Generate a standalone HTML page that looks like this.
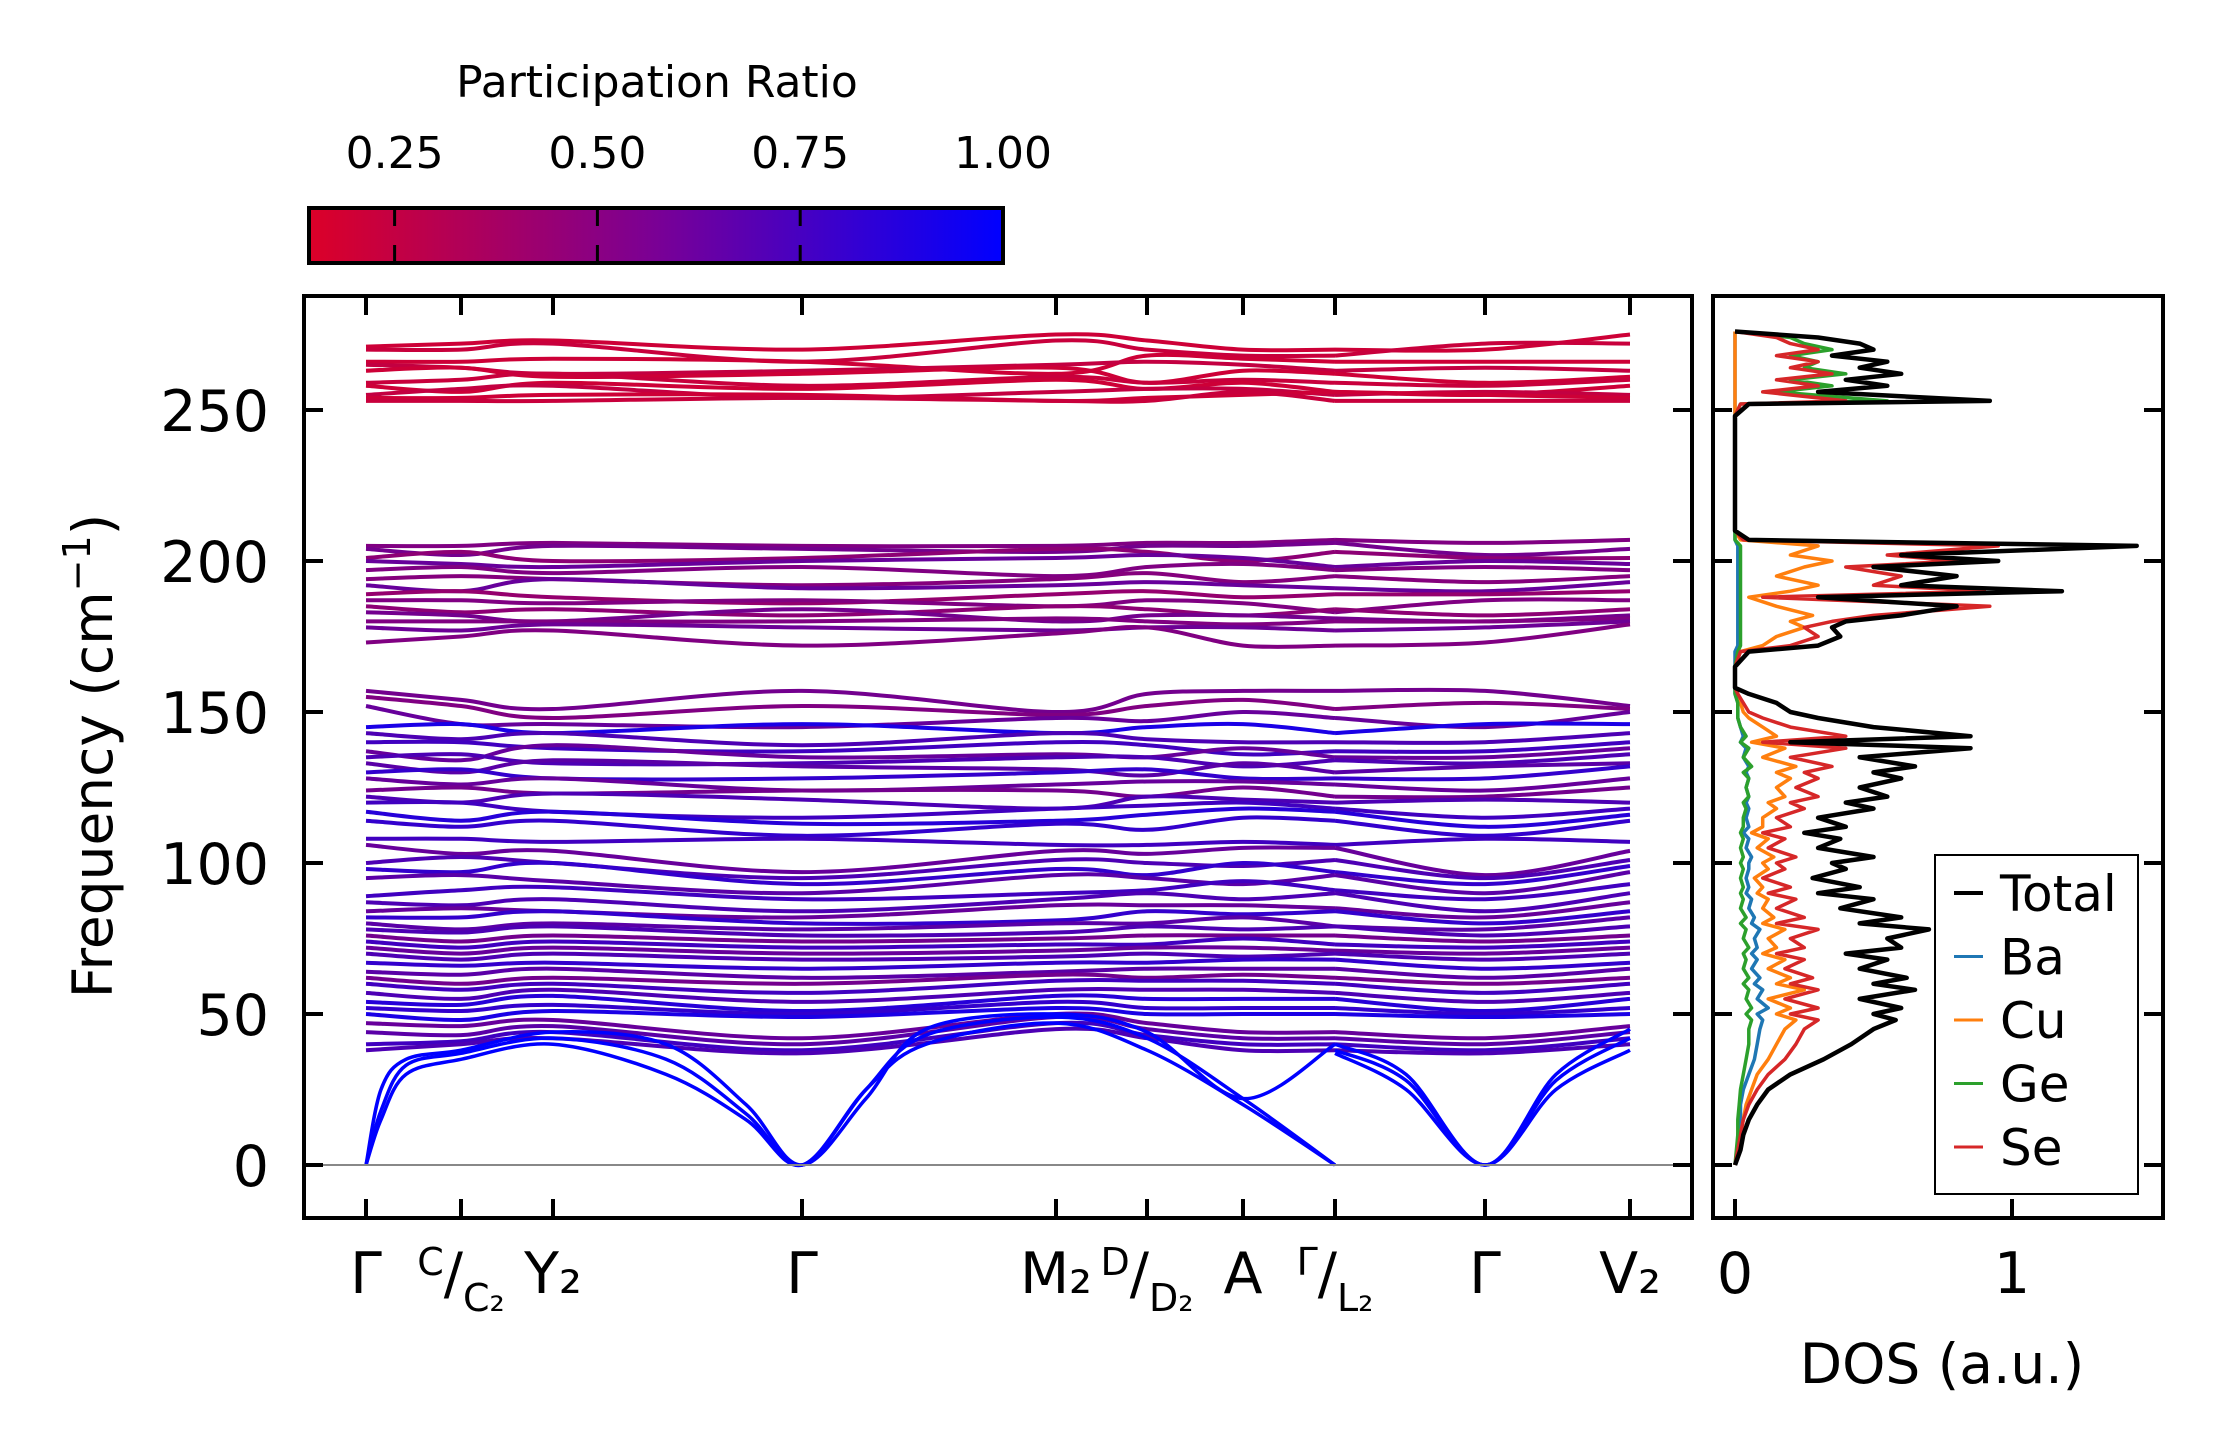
<!DOCTYPE html>
<html><head><meta charset="utf-8">
<style>
html,body{margin:0;padding:0;background:#fff;}
svg{display:block;font-family:"DejaVu Sans","Liberation Sans",sans-serif;}
</style></head>
<body>
<svg id="fig" width="2222" height="1455" viewBox="0 0 2222 1455" xmlns="http://www.w3.org/2000/svg">
  <defs>
    <linearGradient id="cbgrad" x1="0" x2="1" y1="0" y2="0">
      <stop offset="0" stop-color="#dc0028"/>
      <stop offset="0.5" stop-color="#7a0095"/>
      <stop offset="1" stop-color="#0000ff"/>
    </linearGradient>
    <clipPath id="mainclip"><rect x="304" y="296" width="1386" height="920"/></clipPath>
    <clipPath id="dosclip"><rect x="1715" y="296" width="446" height="920"/></clipPath>
  </defs>
  <g id="colorbar">
    <text x="657" y="97" font-size="44" text-anchor="middle">Participation Ratio</text>
    <rect x="309" y="208" width="694" height="55" fill="url(#cbgrad)" stroke="#000" stroke-width="4"/>
  </g>
  <g id="bands" clip-path="url(#mainclip)"></g>
  <g id="dos" clip-path="url(#dosclip)"></g>
  <g id="axes"></g>
</svg>
<script>
// ---- Band structure data ----
const kLabels = ["Γ","C/C₂","Y₂","Γ","M₂","D/D₂","A","Γ/L₂","Γ","V₂"];
const kDist = [0, 95, 187, 436, 690, 781, 877, 969, 1119, 1264];
const yTicks = [0, 50, 100, 150, 200, 250];
const cbTicks = [0.25, 0.50, 0.75, 1.00];
const bandsTop = [
[271,272,273,270,275,273,270,270,270,275],
[270,270,272,266,273,270,268,268,272,272],
[266,266,267,266,262,268,267,266,266,266],
[265,264,262,263,265,266,265,263,264,263],
[263,264,261,262,264,259,263,262,259,261],
[259,260,262,258,261,259,260,259,258,260],
[258,256,259,257,260,257,259,256,255,258],
[255,257,258,254,256,257,257,255,256,255],
[254,254,255,255,253,254,255,256,255,254],
[253,253,253,254,253,253,256,253,253,253]];
const bandsMid = [
[205,205,206,205,205,206,206,207,206,207],
[204,202,205,204,203,205,205,206,202,204],
[201,203,200,201,204,203,200,203,201,201],
[200,199,198,200,201,202,201,198,200,199],
[197,198,196,198,195,198,199,197,198,197],
[194,195,194,192,194,196,193,195,193,195],
[192,190,194,191,192,193,192,191,190,193],
[189,190,188,186,189,190,188,189,189,190],
[187,187,186,187,185,187,186,183,187,187],
[185,183,184,182,185,184,182,184,182,184],
[183,182,180,184,180,182,182,181,180,182],
[180,180,180,180,181,180,179,180,180,181],
[178,177,179,178,177,178,178,177,178,180],
[173,175,177,172,176,178,172,172,173,179]];
const bandsLow = [
[157,154,151,157,150,156,157,157,157,152],
[155,152,148,152,149,152,154,151,153,151],
[152,146,146,145,148,147,150,148,145,150],
[145,146,143,146,143,145,146,143,146,146],
[143,141,143,139,143,141,140,140,140,143],
[140,140,138,137,140,139,136,137,137,140],
[137,134,139,135,136,135,138,135,135,138],
[135,136,133,133,135,135,132,134,133,136],
[133,130,134,132,131,129,133,130,132,133],
[130,131,128,128,130,131,128,128,128,132],
[128,126,128,124,126,127,127,126,124,128],
[124,125,123,124,124,122,125,122,122,125],
[122,120,123,121,118,122,121,120,121,120],
[120,120,117,115,118,119,120,118,115,118],
[117,114,117,113,114,116,118,117,112,116],
[114,112,114,109,113,111,115,114,109,114],
[108,108,107,108,106,106,107,106,108,107],
[106,103,104,97,104,103,105,105,96,104],
[100,102,100,95,101,100,99,101,95,101],
[98,97,100,93,98,96,100,97,93,99],
[95,96,94,90,96,95,93,96,90,97],
[89,91,92,88,90,91,94,91,88,93],
[87,86,88,84,88,90,88,90,84,90],
[84,85,84,82,86,86,86,85,82,87],
[82,82,84,80,81,84,83,84,80,84],
[80,78,80,78,80,80,82,79,78,82],
[78,77,79,76,77,79,78,79,76,79],
[76,74,76,74,75,76,76,76,74,76],
[74,72,74,72,73,73,75,73,72,74],
[72,70,72,70,71,72,72,71,70,72],
[70,68,70,68,69,70,69,70,68,70],
[67,66,67,65,67,67,68,68,65,67],
[64,63,65,62,64,65,65,65,62,65],
[62,60,62,60,63,62,63,62,60,62],
[60,58,60,57,61,61,61,60,57,60],
[57,55,58,54,58,58,58,57,54,57],
[54,53,56,51,56,55,55,55,51,55],
[52,51,53,50,54,52,52,52,50,52],
[50,48,51,49,52,50,50,50,49,50],
[47,46,48,42,50,47,44,44,42,46],
[44,43,46,40,49,45,42,42,40,44],
[40,41,44,38,47,43,40,40,38,42],
[38,40,42,37,45,42,38,38,37,40]];
const prTop = [0.2,0.22,0.2,0.24,0.2,0.22,0.2,0.24,0.2,0.22];
const prMid = [0.5,0.55,0.45,0.6,0.5,0.48,0.6,0.42,0.5,0.45,0.55,0.5,0.58,0.5];
const prLow = [0.55,0.5,0.6,0.9,0.7,0.75,0.6,0.7,0.65,0.8,0.6,0.55,0.7,0.75,0.85,0.8,0.75,0.6,0.7,0.8,0.65,0.75,0.7,0.6,0.8,0.65,0.7,0.55,0.75,0.6,0.7,0.8,0.65,0.55,0.75,0.7,0.85,0.8,0.9,0.6,0.65,0.75,0.7];
const acousticK = [0,15,40,95,187,300,380,436,500,560,690,781,877,969];
const acoustic1 = [0,15,30,35,40,30,15,0,25,40,47,38,20,0];
const acoustic2 = [0,18,33,37,42,35,17,0,25,43,49,42,22,0];
const acoustic3 = [0,25,35,38,44,40,20,0,22,45,50,44,22,40];
const acousticK2 = [969,1040,1119,1190,1264];
const acousticB1 = [37,25,0,25,38];
const acousticB2 = [38,28,0,28,42];
const acousticB3 = [40,30,0,30,45];

// ---- DOS data ----
const dosFreq = [0,5,10,15,20,25,30,35,40,45,48,50,52,55,58,60,62,65,68,70,72,75,78,80,82,85,88,90,92,95,98,100,102,105,108,110,112,115,118,120,122,125,128,130,132,135,138,140,142,145,148,150,153,156,158,165,170,172,175,178,180,182,185,188,190,192,195,198,200,202,205,207,210,248,252,253,256,258,260,262,264,266,268,270,272,274,276];
const dosTotal = [0,0.02,0.03,0.05,0.08,0.12,0.2,0.32,0.42,0.5,0.58,0.5,0.6,0.45,0.65,0.5,0.62,0.45,0.55,0.4,0.6,0.55,0.7,0.45,0.6,0.38,0.5,0.3,0.45,0.28,0.4,0.35,0.5,0.3,0.38,0.25,0.4,0.3,0.5,0.4,0.55,0.45,0.6,0.5,0.65,0.45,0.85,0.2,0.85,0.5,0.3,0.2,0.15,0.05,0,0,0.05,0.3,0.38,0.35,0.4,0.6,0.8,0.3,1.18,0.6,0.8,0.5,0.95,0.6,1.45,0.05,0,0,0.05,0.92,0.3,0.55,0.4,0.6,0.45,0.55,0.35,0.5,0.45,0.3,0];
const dosBa = [0,0.01,0.01,0.02,0.02,0.03,0.05,0.07,0.08,0.09,0.1,0.08,0.12,0.08,0.1,0.07,0.09,0.06,0.08,0.06,0.08,0.07,0.09,0.06,0.07,0.05,0.06,0.04,0.05,0.04,0.05,0.05,0.06,0.04,0.05,0.03,0.05,0.04,0.05,0.04,0.05,0.04,0.05,0.04,0.05,0.03,0.04,0.02,0.03,0.02,0.01,0.01,0.01,0,0,0,0,0.01,0.01,0.01,0.01,0.01,0.01,0.01,0.01,0.01,0.01,0.01,0.01,0.01,0.01,0,0,0,0,0,0,0,0,0,0,0,0,0,0,0,0];
const dosCu = [0,0.01,0.02,0.03,0.04,0.06,0.08,0.12,0.15,0.18,0.22,0.15,0.2,0.12,0.25,0.15,0.2,0.12,0.18,0.1,0.15,0.12,0.18,0.1,0.14,0.1,0.12,0.08,0.1,0.07,0.12,0.1,0.14,0.08,0.12,0.06,0.1,0.1,0.15,0.12,0.18,0.15,0.2,0.15,0.22,0.1,0.18,0.06,0.15,0.1,0.05,0.03,0.02,0.01,0,0,0.02,0.1,0.15,0.25,0.2,0.28,0.15,0.05,0.2,0.3,0.15,0.25,0.35,0.2,0.3,0.02,0,0,0,0,0,0,0,0,0,0,0,0,0,0,0];
const dosGe = [0,0.005,0.01,0.01,0.015,0.02,0.03,0.04,0.05,0.05,0.06,0.04,0.06,0.04,0.05,0.03,0.05,0.03,0.04,0.03,0.05,0.03,0.04,0.02,0.04,0.02,0.03,0.02,0.03,0.02,0.03,0.02,0.03,0.02,0.03,0.02,0.03,0.03,0.04,0.03,0.05,0.04,0.05,0.03,0.06,0.03,0.05,0.02,0.04,0.02,0.01,0.01,0.01,0,0,0,0.01,0.02,0.02,0.02,0.02,0.02,0.02,0.02,0.02,0.02,0.02,0.02,0.02,0.02,0.02,0,0,0,0.02,0.55,0.15,0.35,0.2,0.4,0.25,0.3,0.2,0.35,0.25,0.2,0];
const dosSe = [0,0.01,0.02,0.03,0.05,0.08,0.12,0.18,0.22,0.25,0.3,0.2,0.3,0.18,0.3,0.2,0.28,0.18,0.25,0.15,0.25,0.2,0.3,0.15,0.25,0.15,0.22,0.12,0.2,0.1,0.18,0.15,0.22,0.12,0.18,0.1,0.2,0.15,0.25,0.2,0.3,0.22,0.3,0.25,0.35,0.2,0.4,0.1,0.4,0.2,0.1,0.05,0.03,0.01,0,0,0.02,0.2,0.3,0.25,0.35,0.5,0.92,0.1,0.9,0.5,0.6,0.4,0.8,0.55,0.95,0.03,0,0,0.02,0.4,0.1,0.3,0.15,0.35,0.2,0.3,0.15,0.3,0.2,0.15,0];
const dosTicks = [0, 1];
const legendLabels = ["Total","Ba","Cu","Ge","Se"];
const legendColors = ["#000000","#1f77b4","#ff7f0e","#2ca02c","#d62728"];

const NS = "http://www.w3.org/2000/svg";
const MX0 = 304, MX1 = 1692, MY0 = 296, MY1 = 1218;
const DX0 = 1713, DX1 = 2163;
const kx = k => 366 + k * (1630 - 366) / 1264;
const fy = f => 1165 - f * 151 / 50;
const dx = d => 1735 + d * 277;
const cbx = v => 307 + (v - 0.142) * (1003 - 307) / (1 - 0.142);

function mk(tag, attrs, parent) {
  const e = document.createElementNS(NS, tag);
  for (const a in attrs) e.setAttribute(a, attrs[a]);
  parent.appendChild(e);
  return e;
}
function prColor(p) {
  const t = Math.max(0, Math.min(1, (p - 0.142) / (1 - 0.142)));
  return `rgb(${Math.round(220 * (1 - t))},0,${Math.round(40 + 215 * t)})`;
}
function smoothPath(pts) {
  let d = `M${pts[0][0].toFixed(1)},${pts[0][1].toFixed(1)}`;
  for (let i = 0; i < pts.length - 1; i++) {
    const p0 = pts[Math.max(0, i - 1)], p1 = pts[i], p2 = pts[i + 1], p3 = pts[Math.min(pts.length - 1, i + 2)];
    const c1 = [p1[0] + (p2[0] - p0[0]) / 6, p1[1] + (p2[1] - p0[1]) / 6];
    const c2 = [p2[0] - (p3[0] - p1[0]) / 6, p2[1] - (p3[1] - p1[1]) / 6];
    d += ` C${c1[0].toFixed(1)},${c1[1].toFixed(1)} ${c2[0].toFixed(1)},${c2[1].toFixed(1)} ${p2[0].toFixed(1)},${p2[1].toFixed(1)}`;
  }
  return d;
}
const gB = document.getElementById("bands");
function drawBand(vals, pr, name) {
  const segs = [[0,1,2,3,4,5,6,7],[7,8,9]];
  segs.forEach((idx, si) => {
    const pts = idx.map(i => [kx(kDist[i]), fy(vals[i])]);
    const p = mk("path", {d: smoothPath(pts), fill: "none", stroke: prColor(pr), "stroke-width": 4}, gB);
    
    
  });
}
bandsLow.forEach((b, i) => drawBand(b, prLow[i % prLow.length], 'band-low-' + i));
bandsMid.forEach((b, i) => drawBand(b, prMid[i % prMid.length], 'band-mid-' + i));
bandsTop.forEach((b, i) => drawBand(b, prTop[i % prTop.length], 'band-top-' + i));
[[acoustic1, acousticB1],[acoustic2, acousticB2],[acoustic3, acousticB3]].forEach((pair, j) => {
  const p1 = mk("path", {d: smoothPath(acousticK.map((k, i) => [kx(k), fy(pair[0][i])])), fill: "none", stroke: prColor(1), "stroke-width": 3.5}, gB);
  
  
  const p2 = mk("path", {d: smoothPath(acousticK2.map((k, i) => [kx(k), fy(pair[1][i])])), fill: "none", stroke: prColor(1), "stroke-width": 3.5}, gB);
  
  
});

const gD = document.getElementById("dos");
const dosSeries = [dosBa, dosCu, dosGe, dosSe, dosTotal];
const dosColors = ["#1f77b4","#ff7f0e","#2ca02c","#d62728","#000000"];
const dosNames = ["dos-ba","dos-cu","dos-ge","dos-se","dos-total"];
dosSeries.forEach((s, j) => {
  const n = Math.min(s.length, dosFreq.length);
  let d = "";
  for (let i = 0; i < n; i++) d += (i ? "L" : "M") + dx(s[i]).toFixed(1) + "," + fy(dosFreq[i]).toFixed(1);
  const p = mk("path", {d: d, fill: "none", stroke: dosColors[j], "stroke-width": j === 4 ? 4.5 : 3.5, "stroke-linejoin": "round"}, gD);
  
  
});

const gA = document.getElementById("axes");
const zl = mk("line", {x1: MX0, x2: MX1, y1: fy(0), y2: fy(0), stroke: "#888", "stroke-width": 2}, gA);


const fr1 = mk("rect", {x: MX0, y: MY0, width: MX1 - MX0, height: MY1 - MY0, fill: "none", stroke: "#000", "stroke-width": 4}, gA);


const fr2 = mk("rect", {x: DX0, y: MY0, width: DX1 - DX0, height: MY1 - MY0, fill: "none", stroke: "#000", "stroke-width": 4}, gA);


const TL = 19;
yTicks.forEach(v => {
  const y = fy(v);
  [[MX0, MX0 + TL],[MX1 - TL, MX1],[DX0, DX0 + TL],[DX1 - TL, DX1]].forEach(([a, b]) => {
    const t = mk("line", {x1: a, x2: b, y1: y, y2: y, stroke: "#000", "stroke-width": 4}, gA);
    
    
  });
  const lb = mk("text", {x: 269, y: y + 21, "font-size": 57, "text-anchor": "end"}, gA);
  lb.textContent = v;
  
  
});
kDist.forEach((k, i) => {
  const x = kx(k);
  [[MY0, MY0 + TL],[MY1 - TL, MY1]].forEach(([a, b]) => {
    const t = mk("line", {x1: x, x2: x, y1: a, y2: b, stroke: "#000", "stroke-width": 4}, gA);
    
    
  });
  const lab = kLabels[i];
  const tx = mk("text", {x: x, y: 1293, "font-size": 57, "text-anchor": "middle"}, gA);
  if (lab.includes("/")) {
    const [a, b] = lab.split("/");
    const s1 = mk("tspan", {"font-size": 38, dy: -18}, tx); s1.textContent = a;
    const s2 = mk("tspan", {dy: 18}, tx); s2.textContent = "/";
    const s3 = mk("tspan", {"font-size": 38, dy: 18}, tx); s3.textContent = b;
  } else {
    tx.textContent = lab;
  }
  
  
});
const yl = mk("text", {x: 0, y: 0, "font-size": 55, "text-anchor": "middle", transform: "translate(112,756) rotate(-90)"}, gA);
yl.innerHTML = 'Frequency (cm<tspan font-size="38" dy="-22">−1</tspan><tspan dy="22">)</tspan>';


dosTicks.forEach(v => {
  const x = dx(v);
  const t = mk("line", {x1: x, x2: x, y1: MY1 - TL, y2: MY1, stroke: "#000", "stroke-width": 4}, gA);
  
  
  const lb = mk("text", {x: x, y: 1293, "font-size": 57, "text-anchor": "middle"}, gA);
  lb.textContent = v;
  
  
});
const dl = mk("text", {x: 1942, y: 1383, "font-size": 55, "text-anchor": "middle"}, gA);
dl.textContent = "DOS (a.u.)";



const lg = mk("g", {}, gA);


mk("rect", {x: 1935, y: 855, width: 203, height: 339, fill: "#fff", stroke: "#000", "stroke-width": 2}, lg);
legendLabels.forEach((l, i) => {
  const y = 893 + i * 63.5;
  const ln = mk("line", {x1: 1954, x2: 1983, y1: y, y2: y, stroke: legendColors[i], "stroke-width": i === 0 ? 4 : 3}, lg);
  
  
  const t = mk("text", {x: 2000, y: y + 18, "font-size": 50}, lg);
  t.textContent = l;
  
  
});

const gC = document.getElementById("colorbar");
cbTicks.forEach(v => {
  const x = cbx(v);
  if (v < 1) {
    [[208, 226],[245, 263]].forEach(([a, b]) => {
      const t = mk("line", {x1: x, x2: x, y1: a, y2: b, stroke: "#000", "stroke-width": 3}, gC);
      
      
    });
  }
  const lb = mk("text", {x: x, y: 168, "font-size": 44, "text-anchor": "middle"}, gC);
  lb.textContent = v.toFixed(2);
  
  
});
</script>
</body></html>
